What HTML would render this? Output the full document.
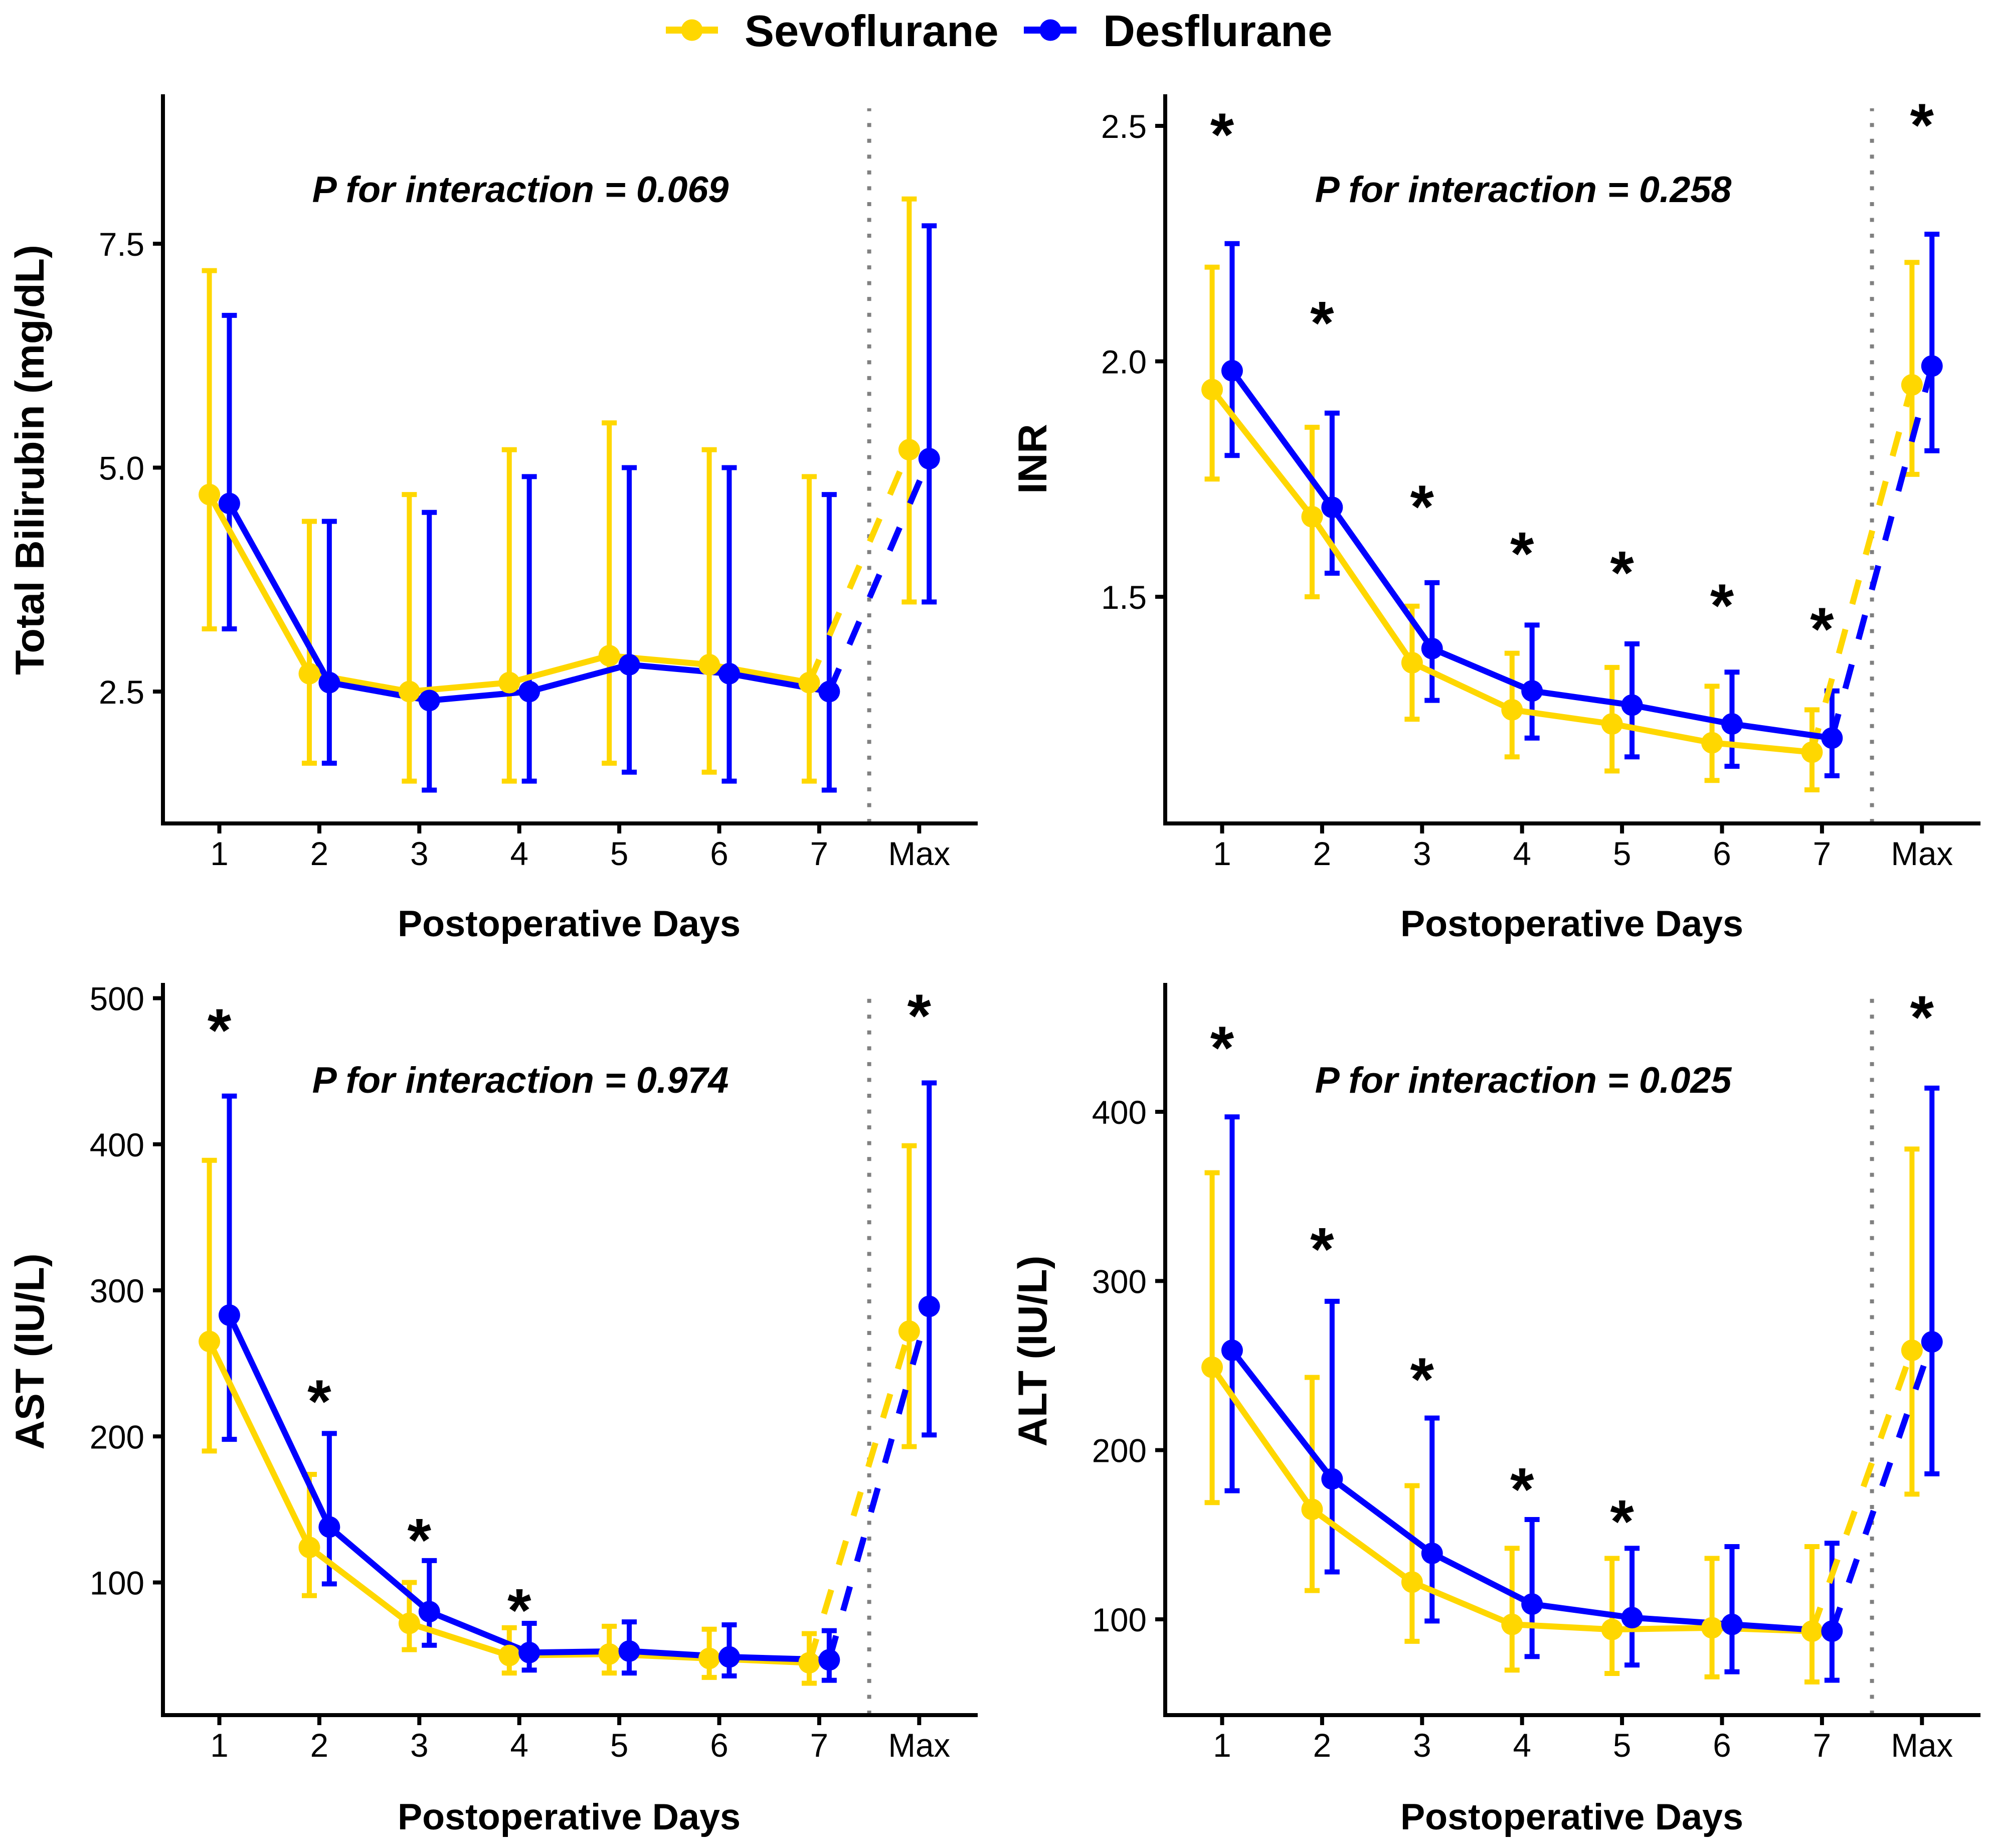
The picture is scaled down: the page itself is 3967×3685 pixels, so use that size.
<!DOCTYPE html>
<html lang="en">
<head>
<meta charset="utf-8">
<title>Liver function after sevoflurane and desflurane</title>
<style>
html,body{margin:0;padding:0;background:#fff;}
svg{display:block;}
text{font-family:"Liberation Sans",Arial,sans-serif;fill:#000;}
.tick{font-size:65.5px;}
.axis-title{font-size:73.7px;font-weight:bold;}
.y-title{font-size:81px;font-weight:bold;}
.p-text{font-size:73.7px;font-weight:bold;font-style:italic;}
.legend-text{font-size:88.5px;font-weight:bold;}
.star{font-size:122px;font-weight:bold;}
</style>
</head>
<body>
<svg id="chart" xmlns="http://www.w3.org/2000/svg" width="3967" height="3685" viewBox="0 0 3967 3685">
  <rect x="0" y="0" width="3967" height="3685" fill="#ffffff"/>
  <g>
    <g>
      <line x1="1328" y1="60" x2="1432" y2="60" stroke="#FFD700" stroke-width="14"/>
      <circle cx="1380" cy="60" r="21.5" fill="#FFD700"/>
      <text class="legend-text" x="1485" y="92">Sevoflurane</text>
    </g>
    <g>
      <line x1="2042" y1="60" x2="2147" y2="60" stroke="#0000FF" stroke-width="14"/>
      <circle cx="2095" cy="60" r="21.5" fill="#0000FF"/>
      <text class="legend-text" x="2200" y="92">Desflurane</text>
    </g>
  </g>
  <g id="panel-bilirubin">
    <text class="y-title" text-anchor="middle" transform="translate(87 917) rotate(-90)">Total Bilirubin (mg/dL)</text>
    <text class="axis-title" text-anchor="middle" x="1135" y="1867">Postoperative Days</text>
    <text class="p-text" text-anchor="middle" x="1038" y="403">P for interaction = 0.069</text>
  </g>
  <g id="panel-inr">
    <text class="y-title" text-anchor="middle" transform="translate(2087 915) rotate(-90)">INR</text>
    <text class="axis-title" text-anchor="middle" x="3135" y="1867">Postoperative Days</text>
    <text class="p-text" text-anchor="middle" x="3038" y="403">P for interaction = 0.258</text>
  </g>
  <g id="panel-ast">
    <text class="y-title" text-anchor="middle" transform="translate(87 2695) rotate(-90)">AST (IU/L)</text>
    <text class="axis-title" text-anchor="middle" x="1135" y="3648">Postoperative Days</text>
    <text class="p-text" text-anchor="middle" x="1038" y="2179">P for interaction = 0.974</text>
  </g>
  <g id="panel-alt">
    <text class="y-title" text-anchor="middle" transform="translate(2087 2694) rotate(-90)">ALT (IU/L)</text>
    <text class="axis-title" text-anchor="middle" x="3135" y="3648">Postoperative Days</text>
    <text class="p-text" text-anchor="middle" x="3038" y="2179">P for interaction = 0.025</text>
  </g>
</svg>
<script>
// Shared categories
const categories = ['1', '2', '3', '4', '5', '6', '7', 'Max'];

// Total bilirubin
const bilirubinTicks = [2.5, 5.0, 7.5];
const bilirubinTickLabels = ['2.5', '5.0', '7.5'];
const bilirubinSevoMean = [4.7, 2.7, 2.5, 2.6, 2.9, 2.8, 2.6, 5.2];
const bilirubinSevoLow = [3.2, 1.7, 1.5, 1.5, 1.7, 1.6, 1.5, 3.5];
const bilirubinSevoHigh = [7.2, 4.4, 4.7, 5.2, 5.5, 5.2, 4.9, 8.0];
const bilirubinDesMean = [4.6, 2.6, 2.4, 2.5, 2.8, 2.7, 2.5, 5.1];
const bilirubinDesLow = [3.2, 1.7, 1.4, 1.5, 1.6, 1.5, 1.4, 3.5];
const bilirubinDesHigh = [6.7, 4.4, 4.5, 4.9, 5.0, 5.0, 4.7, 7.7];
const bilirubinStars = [null, null, null, null, null, null, null, null];

// INR
const inrTicks = [1.5, 2.0, 2.5];
const inrTickLabels = ['1.5', '2.0', '2.5'];
const inrSevoMean = [1.94, 1.67, 1.36, 1.26, 1.23, 1.19, 1.17, 1.95];
const inrSevoLow = [1.75, 1.50, 1.24, 1.16, 1.13, 1.11, 1.09, 1.76];
const inrSevoHigh = [2.20, 1.86, 1.48, 1.38, 1.35, 1.31, 1.26, 2.21];
const inrDesMean = [1.98, 1.69, 1.39, 1.30, 1.27, 1.23, 1.20, 1.99];
const inrDesLow = [1.80, 1.55, 1.28, 1.20, 1.16, 1.14, 1.12, 1.81];
const inrDesHigh = [2.25, 1.89, 1.53, 1.44, 1.40, 1.34, 1.30, 2.27];
const inrStars = [2.50, 2.10, 1.71, 1.61, 1.57, 1.50, 1.45, 2.52];

// AST
const astTicks = [100, 200, 300, 400, 500];
const astTickLabels = ['100', '200', '300', '400', '500'];
const astSevoMean = [265, 124, 72, 50, 51, 48, 45, 272];
const astSevoLow = [190, 91, 54, 38, 38, 35, 31, 193];
const astSevoHigh = [389, 174, 100, 69, 70, 68, 65, 399];
const astDesMean = [283, 138, 80, 52, 53, 49, 47, 289];
const astDesLow = [198, 99, 57, 40, 38, 36, 33, 201];
const astDesHigh = [433, 202, 115, 72, 73, 71, 67, 442];
const astStars = [484, 230, 135, 87, null, null, null, 494];

// ALT
const altTicks = [100, 200, 300, 400];
const altTickLabels = ['100', '200', '300', '400'];
const altSevoMean = [249, 165, 122, 97, 94, 95, 93, 259];
const altSevoLow = [169, 117, 87, 70, 68, 66, 63, 174];
const altSevoHigh = [364, 243, 179, 142, 136, 136, 143, 378];
const altDesMean = [259, 183, 139, 109, 101, 97, 93, 264];
const altDesLow = [176, 128, 99, 78, 73, 69, 64, 186];
const altDesHigh = [397, 288, 219, 159, 142, 143, 145, 414];
const altStars = [443, 324, 247, 182, 163, null, null, 461];

const GOLD = '#FFD700';
const BLUE = '#0000FF';
const NS = 'http://www.w3.org/2000/svg';

function make(parent, tag, attrs, text) {
  const el = document.createElementNS(NS, tag);
  for (const k in attrs) el.setAttribute(k, attrs[k]);
  if (text !== undefined) el.textContent = text;
  parent.appendChild(el);
  return el;
}

function linearY(v0, p0, v1, p1) {
  return function (v) { return p0 + (v - v0) * (p1 - p0) / (v1 - v0); };
}

function drawPanel(cfg) {
  const root = document.getElementById(cfg.id);
  const x = function (i, dodge) { return cfg.x0 + i * cfg.step + (dodge || 0) * cfg.step; };
  const y = linearY(cfg.v0, cfg.p0, cfg.v1, cfg.p1);
  const series = [
    { name: 'sevoflurane', color: GOLD, dodge: -0.1, mean: cfg.sevoMean, low: cfg.sevoLow, high: cfg.sevoHigh },
    { name: 'desflurane', color: BLUE, dodge: 0.1, mean: cfg.desMean, low: cfg.desLow, high: cfg.desHigh }
  ];

  // Separator for the Max category
  const sepX = x(6.5);
  const sep = make(root, 'line', { x1: sepX, y1: cfg.bottom - 1, x2: sepX, y2: cfg.dotTop, stroke: '#808080', 'stroke-width': 8, 'stroke-dasharray': '8 23.54' });
  
  

  // Error bars
  series.forEach(function (s) {
    s.mean.forEach(function (m, i) {
      const cx = x(i, s.dodge);
      const d = 'M' + (cx - 15) + ' ' + y(s.high[i]) + 'H' + (cx + 15) +
                'M' + cx + ' ' + y(s.high[i]) + 'V' + y(s.low[i]) +
                'M' + (cx - 15) + ' ' + y(s.low[i]) + 'H' + (cx + 15);
      const bar = make(root, 'path', { d: d, fill: 'none', stroke: s.color, 'stroke-width': 10 });
      
      
    });
  });

  // Lines: solid through day 7, dashed to Max
  series.forEach(function (s) {
    const solid = s.mean.slice(0, 7).map(function (m, i) { return x(i, s.dodge) + ',' + y(m); }).join(' ');
    const line = make(root, 'polyline', { points: solid, fill: 'none', stroke: s.color, 'stroke-width': 12, 'stroke-linejoin': 'round' });
    
    
    const dash = make(root, 'line', { x1: x(6, s.dodge), y1: y(s.mean[6]), x2: x(7, s.dodge), y2: y(s.mean[7]), stroke: s.color, 'stroke-width': 12, 'stroke-dasharray': '50 52' });
    
    
  });

  // Points
  series.forEach(function (s) {
    s.mean.forEach(function (m, i) {
      const pt = make(root, 'circle', { cx: x(i, s.dodge), cy: y(m), r: 21.5, fill: s.color });
      
      
    });
  });

  // Significance stars
  cfg.stars.forEach(function (v, i) {
    if (v === null) return;
    const st = make(root, 'text', { class: 'star', x: x(i), y: y(v) + 59, 'text-anchor': 'middle' }, '*');
    
    
  });

  // Axes
  const yAxis = make(root, 'line', { x1: cfg.left, y1: cfg.top, x2: cfg.left, y2: cfg.bottom + 4, stroke: '#000', 'stroke-width': 8 });
  
  
  const xAxis = make(root, 'line', { x1: cfg.left - 4, y1: cfg.bottom, x2: cfg.right, y2: cfg.bottom, stroke: '#000', 'stroke-width': 8 });
  
  

  categories.forEach(function (c, i) {
    const t = make(root, 'line', { x1: x(i), y1: cfg.bottom, x2: x(i), y2: cfg.bottom + 20, stroke: '#000', 'stroke-width': 8 });
    
    
    const lb = make(root, 'text', { class: 'tick', x: x(i), y: cfg.bottom + 83, 'text-anchor': 'middle' }, c);
    
    
  });

  cfg.ticks.forEach(function (v, i) {
    const t = make(root, 'line', { x1: cfg.left - 20, y1: y(v), x2: cfg.left, y2: y(v), stroke: '#000', 'stroke-width': 8 });
    
    
    const lb = make(root, 'text', { class: 'tick', x: cfg.left - 37, y: y(v) + 24, 'text-anchor': 'end' }, cfg.tickLabels[i]);
    
    
  });
}

drawPanel({
  id: 'panel-bilirubin', x0: 437.5, step: 199.4, left: 325, right: 1950, top: 188, bottom: 1642, dotTop: 216,
  v0: 2.5, p0: 1379, v1: 7.5, p1: 486,
  ticks: bilirubinTicks, tickLabels: bilirubinTickLabels, stars: bilirubinStars,
  sevoMean: bilirubinSevoMean, sevoLow: bilirubinSevoLow, sevoHigh: bilirubinSevoHigh,
  desMean: bilirubinDesMean, desLow: bilirubinDesLow, desHigh: bilirubinDesHigh
});
drawPanel({
  id: 'panel-inr', x0: 2437.5, step: 199.4, left: 2324, right: 3950, top: 188, bottom: 1642, dotTop: 216,
  v0: 1.5, p0: 1190, v1: 2.5, p1: 251,
  ticks: inrTicks, tickLabels: inrTickLabels, stars: inrStars,
  sevoMean: inrSevoMean, sevoLow: inrSevoLow, sevoHigh: inrSevoHigh,
  desMean: inrDesMean, desLow: inrDesLow, desHigh: inrDesHigh
});
drawPanel({
  id: 'panel-ast', x0: 437.5, step: 199.4, left: 325, right: 1950, top: 1960, bottom: 3420, dotTop: 1986,
  v0: 100, p0: 3155.5, v1: 500, p1: 1990.5,
  ticks: astTicks, tickLabels: astTickLabels, stars: astStars,
  sevoMean: astSevoMean, sevoLow: astSevoLow, sevoHigh: astSevoHigh,
  desMean: astDesMean, desLow: astDesLow, desHigh: astDesHigh
});
drawPanel({
  id: 'panel-alt', x0: 2437.5, step: 199.4, left: 2324, right: 3950, top: 1960, bottom: 3420, dotTop: 1986,
  v0: 100, p0: 3229, v1: 400, p1: 2217,
  ticks: altTicks, tickLabels: altTickLabels, stars: altStars,
  sevoMean: altSevoMean, sevoLow: altSevoLow, sevoHigh: altSevoHigh,
  desMean: altDesMean, desLow: altDesLow, desHigh: altDesHigh
});
</script>
</body>
</html>
